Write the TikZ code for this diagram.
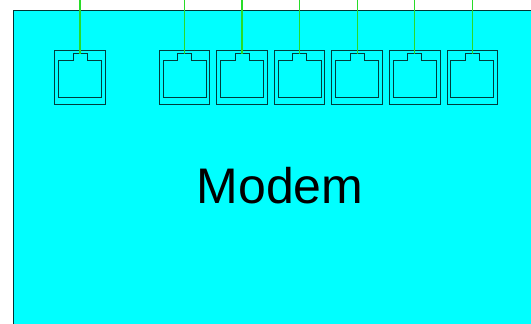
\documentclass[tikz,border=0pt]{standalone}
\usepackage{fontspec}
\setmainfont{Liberation Sans}
\definecolor{modemcyan}{RGB}{0,255,255}
\definecolor{wiregreen}{RGB}{40,220,40}
\definecolor{portline}{RGB}{0,60,60}
\tikzset{
  body/.style={draw=black!80!modemcyan,line width=1pt,fill=modemcyan},
  portbox/.style={draw=portline,line width=1pt},
  wire/.style={draw=wiregreen,line width=1.2pt},
}
\newcommand{\port}[2]{%
  \coordinate (#2) at (#1,53.5);
  \draw[portbox] (#1-25.3,50) rectangle (#1+25.3,104);
  \draw[portbox] (#1-21.5,60.5) -- (#1-7,60.5) -- (#1-7,53.5) -- (#1+7,53.5) -- (#1+7,60.5) -- (#1+21.5,60.5) -- (#1+21.5,97) -- (#1-21.5,97) -- cycle;
  \coordinate (top#2) at (#1,0);
  \draw[wire] (top#2) -- (#2);
}
\begin{document}
\begin{tikzpicture}[x=1pt,y=-1pt]
\useasboundingbox (0,0) rectangle (531,324);
\fill[white] (0,0) rectangle (531,324);
\draw[body] (13,10.5) rectangle (540,340);
\port{80}{pa}
\port{184.5}{pb}
\port{242}{pc}
\port{299.6}{pd}
\port{357.2}{pe}
\port{414.8}{pf}
\port{472.4}{pg}
\node[font=\fontsize{50}{56}\selectfont,text=black,inner sep=0pt] (label) at (280,186) {Modem};
\end{tikzpicture}
\end{document}
